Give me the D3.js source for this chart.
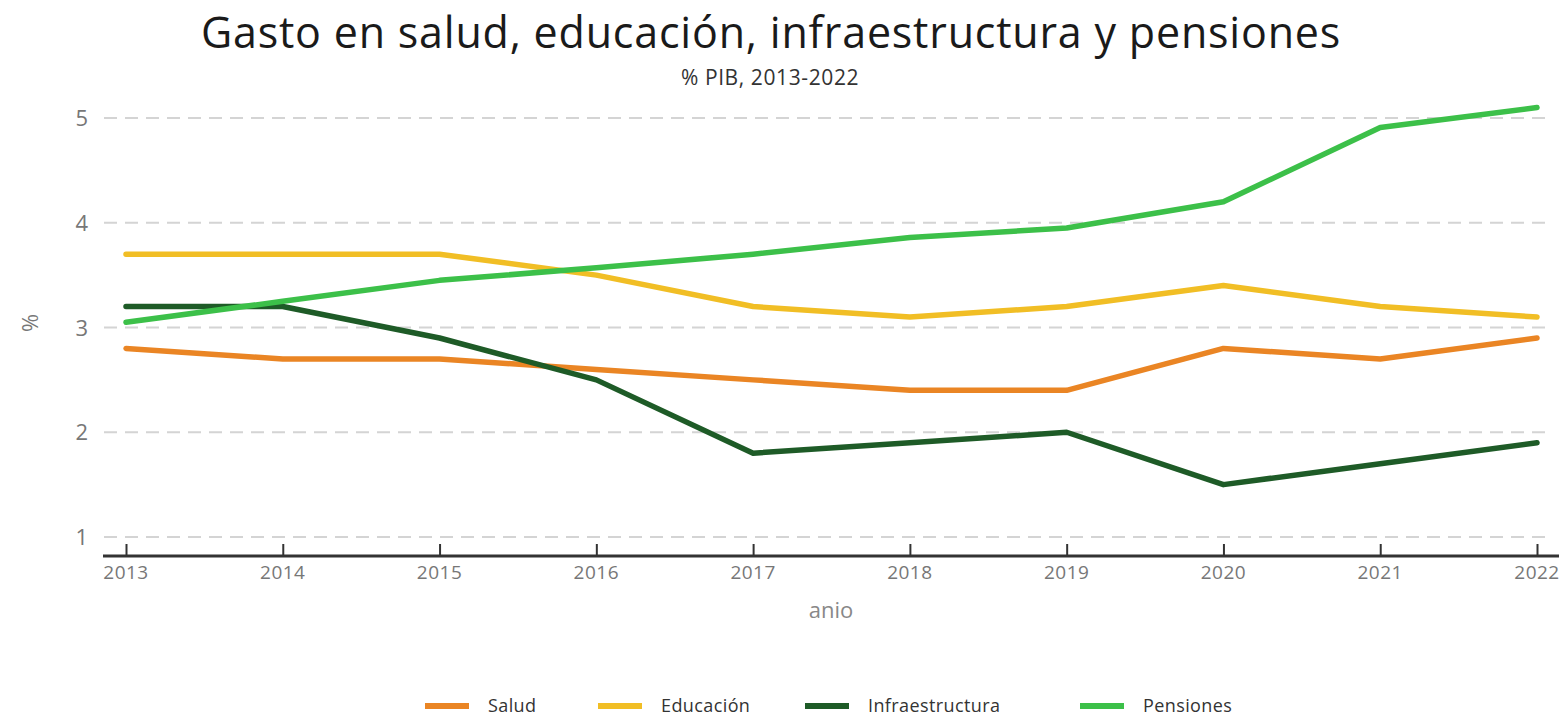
<!DOCTYPE html>
<html>
<head>
<meta charset="utf-8">
<script src="https://cdn.jsdelivr.net/npm/d3@7"></script>
<style>
  body { margin: 0; background: #fff; }
  text { font-family: "Open Sans", "DejaVu Sans", sans-serif; }
</style>
</head>
<body>
<svg id="chart" width="1563" height="718"></svg>
<script>
// data
var years = [2013, 2014, 2015, 2016, 2017, 2018, 2019, 2020, 2021, 2022];
var salud = [2.8, 2.7, 2.7, 2.6, 2.5, 2.4, 2.4, 2.8, 2.7, 2.9];
var educacion = [3.7, 3.7, 3.7, 3.5, 3.2, 3.1, 3.2, 3.4, 3.2, 3.1];
var infraestructura = [3.2, 3.2, 2.9, 2.5, 1.8, 1.9, 2.0, 1.5, 1.7, 1.9];
var pensiones = [3.05, 3.25, 3.45, 3.57, 3.7, 3.86, 3.95, 4.2, 4.91, 5.1];
var seriesNames = ["Salud", "Educación", "Infraestructura", "Pensiones"];
var seriesColors = ["#ea8524", "#f1be25", "#1e5b27", "#3cc049"];
var yTicks = [1, 2, 3, 4, 5];

var series = [salud, educacion, infraestructura, pensiones].map((vals, i) => ({
  name: seriesNames[i], color: seriesColors[i],
  values: vals.map((v, j) => ({year: years[j], value: v}))
}));

var svg = d3.select("#chart");

var x = d3.scaleLinear().domain([2013, 2022]).range([126, 1537]);
var y = d3.scaleLinear().domain([1, 5]).range([537, 118]);

// title
svg.append("text")
  .attr("x", 771).attr("y", 48)
  .attr("text-anchor", "middle")
  .style("font-size", "43px")
  .style("letter-spacing", "0.8px")
  .style("fill", "#1a1a1a")
  .text("Gasto en salud, educación, infraestructura y pensiones");
svg.append("text")
  .attr("x", 770).attr("y", 85)
  .attr("text-anchor", "middle")
  .style("font-size", "21px")
  .style("letter-spacing", "0.6px")
  .style("fill", "#333")
  .text("% PIB, 2013-2022");

// grid
svg.append("g")
  .selectAll("line")
  .data(yTicks)
  .enter()
  .append("line")
  .attr("x1", 104).attr("x2", 1552)
  .attr("y1", d => y(d)).attr("y2", d => y(d))
  .style("stroke", "#d4d4d4")
  .style("stroke-width", 2)
  .style("stroke-dasharray", "13,8");

// y labels
svg.append("g")
  .selectAll("text")
  .data(yTicks)
  .enter()
  .append("text")
  .attr("x", 88).attr("y", d => y(d) + 8)
  .attr("text-anchor", "end")
  .style("font-size", "22px")
  .style("fill", "#777")
  .text(d => d);

svg.append("text")
  .attr("transform", "translate(38,323) rotate(-90)")
  .attr("text-anchor", "middle")
  .style("font-size", "22px")
  .style("fill", "#777")
  .text("%");

// x axis
var xAxis = d3.axisTop(x)
  .tickValues(years)
  .tickFormat(d3.format("d"))
  .tickSize(12)
  .tickSizeOuter(0);
var gx = svg.append("g")
  .attr("transform", "translate(0,556)")
  .call(xAxis);
gx.select(".domain").remove();
gx.selectAll(".tick line").style("stroke", "#333").style("stroke-width", 2);
gx.selectAll(".tick text").remove();
svg.append("line")
  .attr("x1", 103).attr("x2", 1559)
  .attr("y1", 556).attr("y2", 556)
  .style("stroke", "#333").style("stroke-width", 3);

svg.append("g")
  .selectAll("text")
  .data(years)
  .enter()
  .append("text")
  .attr("x", d => x(d)).attr("y", 579)
  .attr("text-anchor", "middle")
  .style("font-size", "19px")
  .style("letter-spacing", "0.5px")
  .style("fill", "#777")
  .text(d => d);

svg.append("text")
  .attr("x", 831).attr("y", 618)
  .attr("text-anchor", "middle")
  .style("font-size", "22px")
  .style("fill", "#888")
  .text("anio");

// lines
var line = d3.line()
  .x(d => x(d.year))
  .y(d => y(d.value));

svg.append("g")
  .selectAll("path")
  .data(series)
  .enter()
  .append("path")
  .attr("d", d => line(d.values))
  .style("fill", "none")
  .style("stroke", d => d.color)
  .style("stroke-width", 5.5)
  .style("stroke-linejoin", "round")
  .style("stroke-linecap", "round");

// legend
var legendX = [425, 598, 805, 1080];
var lg = svg.append("g")
  .selectAll("g")
  .data(series)
  .enter()
  .append("g")
  .attr("transform", (d, i) => "translate(" + legendX[i] + ",706)");
lg.append("line")
  .attr("x1", 0).attr("x2", 44)
  .style("stroke", d => d.color)
  .style("stroke-width", 6);
lg.append("text")
  .attr("x", 63).attr("y", 6)
  .style("font-size", "18px")
  .style("letter-spacing", "0.4px")
  .style("fill", "#333")
  .text(d => d.name);
</script>
</body>
</html>
